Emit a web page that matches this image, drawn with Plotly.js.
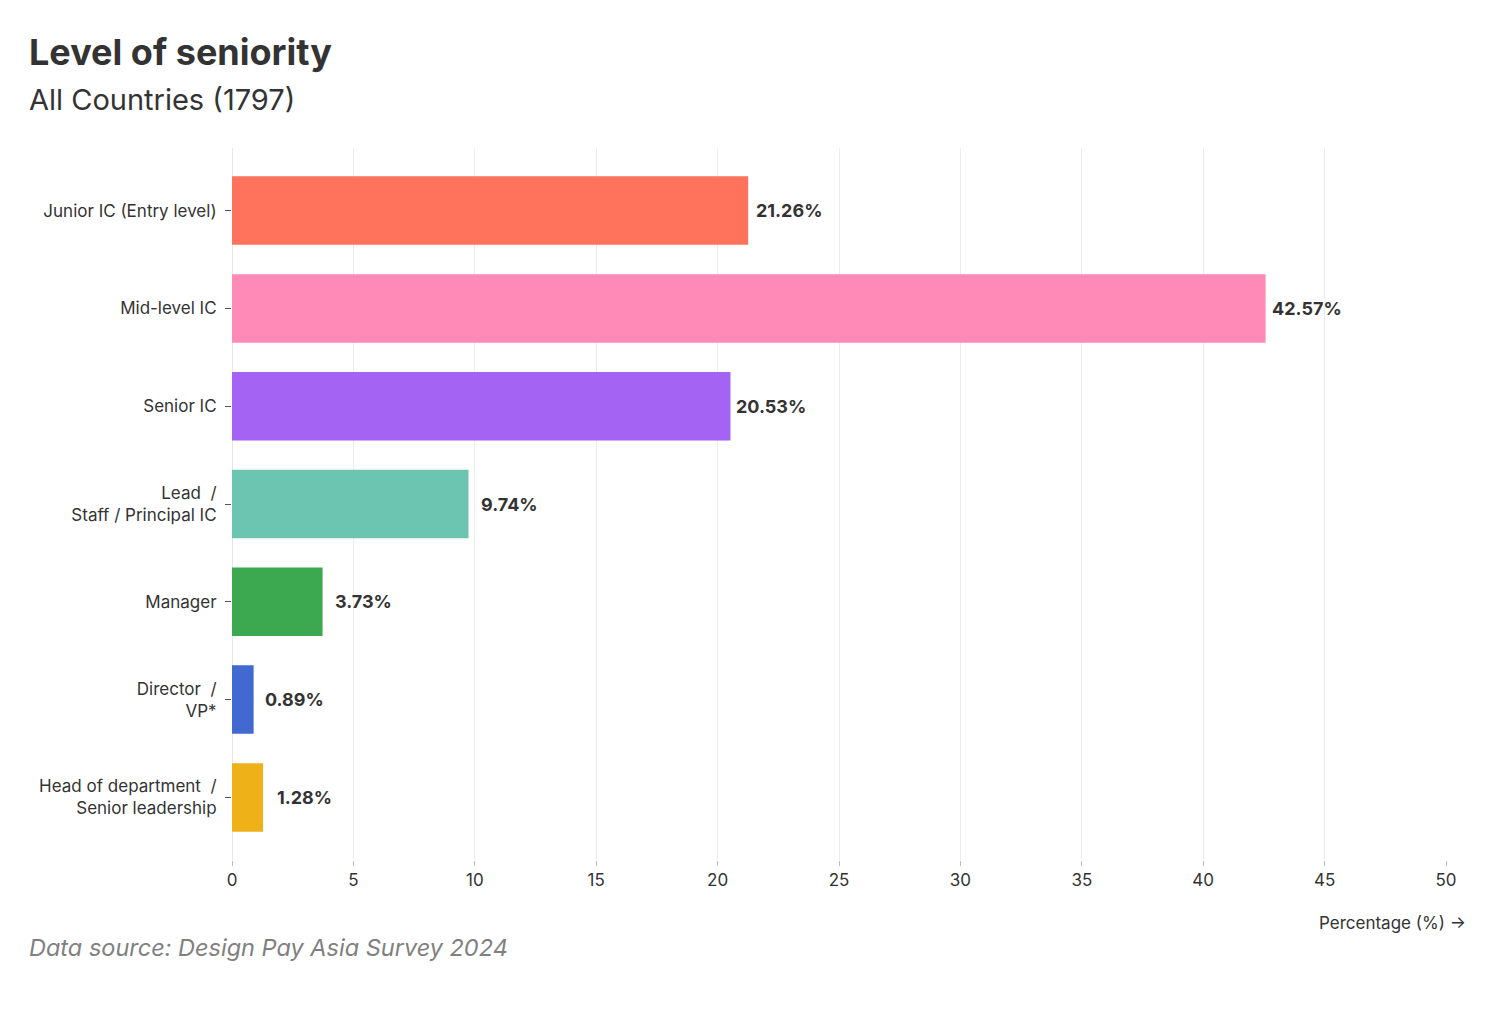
<!DOCTYPE html>
<html>
<head>
<meta charset="utf-8">
<script src="https://cdn.plot.ly/plotly-3.0.1.min.js"></script>
<style>
html,body{margin:0;padding:0;background:#fff;}
#chart{width:1500px;height:1022px;}
</style>
</head>
<body>
<div id="chart"></div>
<script>
const categories = [
  "Junior IC (Entry level)",
  "Mid-level IC",
  "Senior IC",
  "Lead&nbsp;&nbsp;/<br>Staff / Principal IC",
  "Manager",
  "Director&nbsp;&nbsp;/<br>VP*",
  "Head of department&nbsp;&nbsp;/<br>Senior leadership"
];
const values = [21.26, 42.57, 20.53, 9.74, 3.73, 0.89, 1.28];
const colors = ["#ff725c", "#ff8ab7", "#a463f2", "#6cc5b0", "#3ca951", "#4269d0", "#efb118"];
const xTicks = [0, 5, 10, 15, 20, 25, 30, 35, 40, 45, 50];

const FONT = "Inter, 'Noto Sans', sans-serif";

const trace = {
  type: "bar",
  orientation: "h",
  x: values,
  y: categories,
  marker: {color: colors},
  hoverinfo: "x+y"
};

const valueLabels = values.map((v, i) => ({
  xref: "x", yref: "y", x: v, y: categories[i],
  xanchor: "center", yanchor: "middle", xshift: 41,
  text: "<b>" + v.toFixed(2) + "%</b>", showarrow: false,
  font: {family: FONT, size: 18, color: "#333"}
}));

const layout = {
  width: 1500,
  height: 1022,
  margin: {l: 232, r: 54, t: 148, b: 162},
  paper_bgcolor: "#fff",
  plot_bgcolor: "#fff",
  bargap: 0.3,
  showlegend: false,
  font: {family: FONT, color: "#333", size: 17},
  xaxis: {
    range: [0, 50],
    tickvals: xTicks,
    ticktext: xTicks.map(String),
    showgrid: true,
    gridcolor: "#ececec",
    gridwidth: 1,
    zeroline: true,
    zerolinecolor: "#e6e6e6",
    zerolinewidth: 1,
    ticks: "outside",
    ticklen: 5,
    tickcolor: "#bbb",
    showline: false,
    tickfont: {family: FONT, size: 17, color: "#333"},
    fixedrange: true
  },
  yaxis: {
    type: "category",
    range: [6.64, -0.64],
    ticks: "outside",
    ticklen: 6,
    tickcolor: "#555",
    ticklabelstandoff: 5,
    showgrid: false,
    zeroline: false,
    showline: false,
    tickfont: {family: FONT, size: 17, color: "#333"},
    fixedrange: true
  },
  annotations: valueLabels.concat([
    {xref: "paper", yref: "paper", x: -0.1689, y: 1.1348, xanchor: "left", yanchor: "middle",
     text: "<b>Level of seniority</b>", showarrow: false,
     font: {family: FONT, size: 36, color: "#333"}},
    {xref: "paper", yref: "paper", x: -0.1689, y: 1.0688, xanchor: "left", yanchor: "middle",
     text: "All Countries (1797)", showarrow: false,
     font: {family: FONT, size: 29, color: "#333"}},
    {xref: "paper", yref: "paper", x: 1.018, y: -0.0885, xanchor: "right", yanchor: "middle",
     text: "Percentage (%) →", showarrow: false,
     font: {family: FONT, size: 17, color: "#333"}},
    {xref: "paper", yref: "paper", x: -0.1689, y: -0.1222, xanchor: "left", yanchor: "middle",
     text: "<i>Data source: Design Pay Asia Survey 2024</i>", showarrow: false,
     font: {family: FONT, size: 23.5, color: "#808080"}}
  ])
};

Plotly.newPlot("chart", [trace], layout, {displayModeBar: false, staticPlot: true});
</script>
</body>
</html>
